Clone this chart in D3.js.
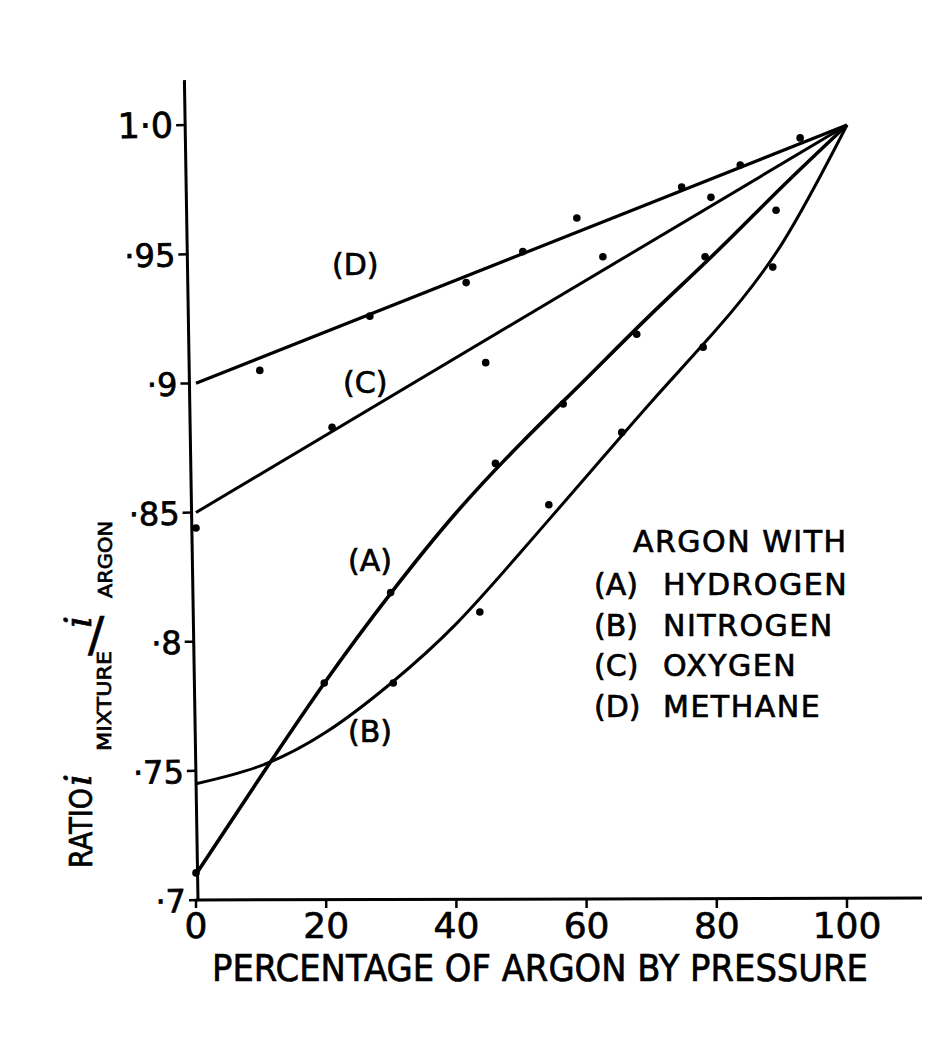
<!DOCTYPE html>
<html>
<head>
<meta charset="utf-8">
<script src="https://cdn.jsdelivr.net/npm/d3@7"></script>
<style>
  body { margin: 0; background: #fff; }
  svg { display: block; }
  text { font-family: "DejaVu Sans", sans-serif; fill: #000; stroke: #000; stroke-width: 0.7px; }
</style>
</head>
<body>
<svg id="chart" width="947" height="1058"></svg>
<script>
// tick values and labels
var xTicks = [0, 20, 40, 60, 80, 100];
var xTickLabels = ['0', '20', '40', '60', '80', '100'];
var yTicks = [0.7, 0.75, 0.8, 0.85, 0.9, 0.95, 1.0];
var yTickLabels = ['\u00b77', '\u00b775', '\u00b78', '\u00b785', '\u00b79', '\u00b795', '1\u00b70'];

// fitted curves at every 10 %
var curvePct = [0, 10, 20, 30, 40, 50, 60, 70, 80, 90, 100];
var hydrogenCurve = [0.710, 0.748, 0.785, 0.819, 0.850, 0.877, 0.902, 0.927, 0.951, 0.976, 1.0];
var nitrogenCurve = [0.745, 0.752, 0.765, 0.784, 0.807, 0.835, 0.864, 0.893, 0.921, 0.954, 1.0];
var oxygenLine = [[0, 0.85], [100, 1.0]];
var methaneLine = [[0, 0.90], [100, 1.0]];

// measured points [percent argon, ratio]
var hydrogenPts = [[0, 0.7105], [19.7, 0.784], [29.9, 0.819], [46, 0.869], [56.4, 0.892], [67.7, 0.919], [78.2, 0.949], [89.1, 0.967]];
var nitrogenPts = [[30.3, 0.784], [43.6, 0.8115], [54.2, 0.853], [65.4, 0.881], [77.9, 0.914], [88.6, 0.945]];
var oxygenPts = [[0, 0.844], [20.9, 0.883], [44.5, 0.908], [62.5, 0.949], [79.1, 0.972]];
var methanePts = [[9.8, 0.905], [26.7, 0.926], [41.5, 0.939], [50.2, 0.951], [58.5, 0.964], [74.6, 0.976], [83.6, 0.9845], [92.8, 0.995]];

var legendTitle = 'ARGON WITH';
var legendKeys = ['(A)', '(B)', '(C)', '(D)'];
var legendNames = ['HYDROGEN', 'NITROGEN', 'OXYGEN', 'METHANE'];
var xTitle = 'PERCENTAGE OF ARGON BY PRESSURE';

var svg = d3.select('#chart');
var x = d3.scaleLinear().domain([0, 100]).range([196, 847]);
var y = d3.scaleLinear().domain([0.7, 1.0]).range([900, 125]);

// x axis
var xAxisG = svg.append('g');
xAxisG.append('line')
    .attr('x1', 196).attr('x2', 922)
    .attr('y1', 900).attr('y2', 898)
    .style('stroke', '#000').style('stroke-width', 3);
xAxisG.selectAll('.x-tick')
    .data(xTicks)
    .enter().append('line')
    .attr('class', 'x-tick')
    .attr('x1', function(d) { return x(d); })
    .attr('x2', function(d) { return x(d); })
    .attr('y1', 899).attr('y2', 908)
    .style('stroke', '#000').style('stroke-width', 2.5);
xAxisG.selectAll('.x-label')
    .data(xTicks)
    .enter().append('text')
    .attr('class', 'x-label')
    .attr('x', function(d) { return x(d); })
    .attr('y', 938)
    .attr('text-anchor', 'middle')
    .style('font-size', '36px')
    .text(function(d, i) { return xTickLabels[i]; });
svg.append('text')
    .attr('x', 212).attr('y', 981)
    .attr('textLength', 656).attr('lengthAdjust', 'spacingAndGlyphs')
    .style('font-size', '37px')
    .text(xTitle);

// y axis, leaning slightly like the scanned drawing
var yAxisG = svg.append('g')
    .attr('transform', 'translate(2,0) rotate(-0.95,196,900)');
yAxisG.append('line')
    .attr('x1', 196).attr('x2', 196)
    .attr('y1', 80).attr('y2', 901)
    .style('stroke', '#000').style('stroke-width', 3);
yAxisG.selectAll('.y-tick')
    .data(yTicks)
    .enter().append('line')
    .attr('class', 'y-tick')
    .attr('x1', 187).attr('x2', 197)
    .attr('y1', function(d) { return y(d); })
    .attr('y2', function(d) { return y(d); })
    .style('stroke', '#000').style('stroke-width', 2.5);
yAxisG.selectAll('.y-label')
    .data(yTicks)
    .enter().append('text')
    .attr('class', 'y-label')
    .attr('x', 184)
    .attr('y', function(d) { return y(d) + 12; })
    .attr('text-anchor', 'end')
    .style('font-size', function(d) { return d === 1.0 ? '35px' : '32px'; })
    .text(function(d, i) { return yTickLabels[i]; });

// y axis title (rotated pieces), slash drawn upright like the original
var yTitleG = svg.append('g')
    .attr('transform', 'rotate(-90)');
yTitleG.append('text').attr('x', -868).attr('y', 92)
    .attr('textLength', 80).attr('lengthAdjust', 'spacingAndGlyphs')
    .style('font-size', '32px').text('RATIO');
yTitleG.append('text').attr('x', -786).attr('y', 91)
    .style('font-family', '"DejaVu Serif", serif').style('font-style', 'italic')
    .style('font-size', '38px').text('i');
yTitleG.append('text').attr('x', -751).attr('y', 111)
    .attr('textLength', 100).attr('lengthAdjust', 'spacingAndGlyphs')
    .style('font-size', '20px').text('MIXTURE');
yTitleG.append('text').attr('x', -628).attr('y', 91)
    .style('font-family', '"DejaVu Serif", serif').style('font-style', 'italic')
    .style('font-size', '38px').text('i');
yTitleG.append('text').attr('x', -598).attr('y', 112)
    .attr('textLength', 77).attr('lengthAdjust', 'spacingAndGlyphs')
    .style('font-size', '20px').text('ARGON');
svg.append('text')
    .attr('x', 88).attr('y', 651)
    .style('font-size', '48px')
    .text('/');

// curves
var smooth = d3.line()
    .x(function(d, i) { return x(curvePct[i]); })
    .y(function(d) { return y(d); })
    .curve(d3.curveNatural);
var straight = d3.line()
    .x(function(d) { return x(d[0]); })
    .y(function(d) { return y(d[1]); });

svg.append('path').datum(hydrogenCurve)
    .attr('d', smooth)
    .style('fill', 'none').style('stroke', '#000').style('stroke-width', 3.6);
svg.append('path').datum(nitrogenCurve)
    .attr('d', smooth)
    .style('fill', 'none').style('stroke', '#000').style('stroke-width', 3);
svg.append('path').datum(oxygenLine)
    .attr('d', straight)
    .style('fill', 'none').style('stroke', '#000').style('stroke-width', 3);
svg.append('path').datum(methaneLine)
    .attr('d', straight)
    .style('fill', 'none').style('stroke', '#000').style('stroke-width', 3.2);

// measured points
var allPts = hydrogenPts.concat(nitrogenPts, oxygenPts, methanePts);
svg.selectAll('.pt')
    .data(allPts)
    .enter().append('circle')
    .attr('class', 'pt')
    .attr('cx', function(d) { return x(d[0]); })
    .attr('cy', function(d) { return y(d[1]); })
    .attr('r', 3.8)
    .style('fill', '#000');

// curve labels
var curveLabelPos = [[348, 571], [348, 742], [343, 393], [332, 275]];
svg.selectAll('.curve-label')
    .data(legendKeys)
    .enter().append('text')
    .attr('class', 'curve-label')
    .attr('x', function(d, i) { return curveLabelPos[i][0]; })
    .attr('y', function(d, i) { return curveLabelPos[i][1]; })
    .style('font-size', '30px')
    .text(function(d) { return d; });

// legend
var legendG = svg.append('g');
legendG.append('text')
    .attr('x', 633).attr('y', 552)
    .style('font-size', '30px').style('letter-spacing', '1.5px')
    .text(legendTitle);
legendG.selectAll('.leg-key')
    .data(legendKeys)
    .enter().append('text')
    .attr('class', 'leg-key')
    .attr('x', 594)
    .attr('y', function(d, i) { return 595 + i * 40.5; })
    .style('font-size', '30px')
    .text(function(d) { return d; });
legendG.selectAll('.leg-name')
    .data(legendNames)
    .enter().append('text')
    .attr('class', 'leg-name')
    .attr('x', 663)
    .attr('y', function(d, i) { return 595 + i * 40.5; })
    .style('font-size', '30px').style('letter-spacing', '1.5px')
    .text(function(d) { return d; });
</script>
</body>
</html>
